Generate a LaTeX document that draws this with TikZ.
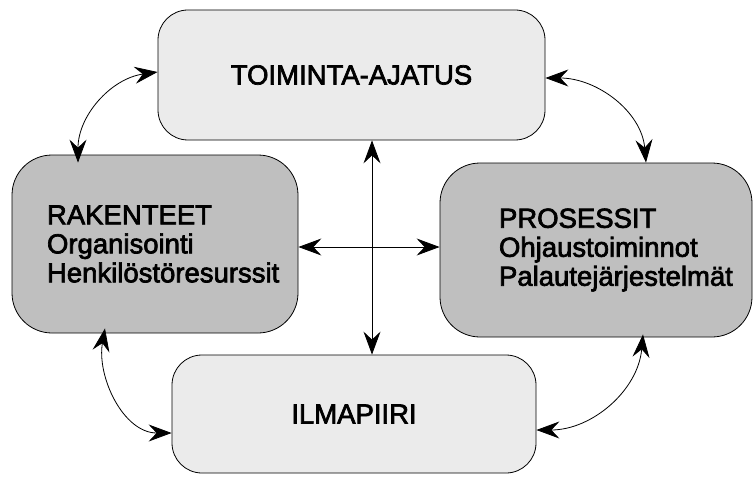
\documentclass[tikz,border=0pt]{standalone}
\usepackage{fontspec}
\setmainfont{Liberation Sans}
\newfontfamily\heavyfont{Liberation Sans}[FakeBold=2.5]
\usetikzlibrary{arrows.meta,positioning}
\tikzset{
  lightbox/.style={draw, rounded corners=30pt, fill=black!8, line width=0.8pt,
    minimum width=387pt, minimum height=130pt, inner sep=0pt},
  graybox/.style={draw, rounded corners=40pt, fill=black!25, line width=0.8pt,
    align=left, inner ysep=0pt},
  dbl/.style={{Stealth[length=23pt,width=17pt,inset=8pt]}-{Stealth[length=23pt,width=17pt,inset=8pt]}, line width=0.8pt}
}
\begin{document}
\begin{tikzpicture}[x=1pt, y=-1pt, font=\heavyfont\fontsize{27.5}{29}\selectfont]
  \useasboundingbox (0,0) rectangle (754,476);
  \node(T)[lightbox] at (351.5,75) {TOIMINTA-AJATUS};
  \node(I)[lightbox, minimum width=364pt, minimum height=118pt] at (354,414) {ILMAPIIRI};
  \node(R)[graybox, text width=216pt, inner xsep=35pt, minimum height=178pt] at (155,244)
    {RAKENTEET\\Organisointi\\Henkilöstöresurssit};
  \node(P)[graybox, text width=194pt, inner xsep=59pt, minimum height=174pt] at (596,250)
    {PROSESSIT\\Ohjaustoiminnot\\Palautejärjestelmät};
  \coordinate(X) at (372,247);
  % cross in the middle
  \draw[dbl](X |- T.south) -- (X |- I.north);
  \draw[dbl](R.east |- X) -- (P.west |- X);
  % curved links between neighbours
  \draw[dbl]([yshift=3pt]T.west) to[out=188, in=90] ([xshift=-77pt, yshift=-8pt]R.north);
  \draw[dbl]([yshift=-3pt]T.east) to[out=0, in=95] ([xshift=50pt]P.north);
  \draw[dbl]([xshift=-50pt, yshift=5pt]R.south) to[out=260, in=180] ([yshift=-19pt]I.west);
  \draw[dbl]([xshift=47pt, yshift=3pt]P.south) to[out=265, in=0] ([yshift=-16pt]I.east);
\end{tikzpicture}
\end{document}
